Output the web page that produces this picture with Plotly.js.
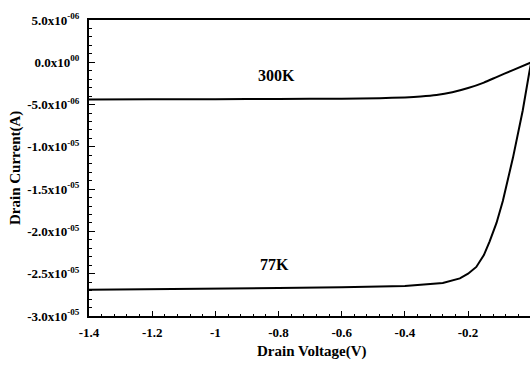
<!DOCTYPE html>
<html><head><meta charset="utf-8">
<script src="https://cdn.plot.ly/plotly-3.0.1.min.js"></script>
<style>html,body{margin:0;padding:0;background:#fff}#c{width:530px;height:367px}</style>
</head><body><div id="c"></div>
<script>
const v300 = [-1.4, -1.2, -1.0, -0.8, -0.6, -0.48, -0.4, -0.35, -0.3, -0.25, -0.2, -0.15, -0.11, -0.06, 0];
const i300 = [-4.4e-6, -4.38e-6, -4.36e-6, -4.34e-6, -4.3e-6, -4.24e-6, -4.15e-6, -4.05e-6, -3.88e-6, -3.55e-6, -3.05e-6, -2.4e-6, -1.75e-6, -0.95e-6, 0];
const v77 = [-1.4, -1.2, -1.0, -0.8, -0.6, -0.48, -0.4, -0.28, -0.226, -0.2, -0.174, -0.15, -0.132, -0.11, -0.09, -0.058, -0.027, -0.006, 0];
const i77 = [-2.69e-5, -2.685e-5, -2.68e-5, -2.67e-5, -2.66e-5, -2.655e-5, -2.645e-5, -2.61e-5, -2.555e-5, -2.5e-5, -2.42e-5, -2.28e-5, -2.12e-5, -1.9e-5, -1.64e-5, -1.13e-5, -5.7e-6, -1.15e-6, 0];
const yTickVals = [5e-6, 0, -5e-6, -1e-5, -1.5e-5, -2e-5, -2.5e-5, -3e-5];
const yTickText = ['5.0x10<sup>-06</sup>', '0.0x10<sup>00</sup>', '-5.0x10<sup>-06</sup>', '-1.0x10<sup>-05</sup>', '-1.5x10<sup>-05</sup>', '-2.0x10<sup>-05</sup>', '-2.5x10<sup>-05</sup>', '-3.0x10<sup>-05</sup>'];
const xTickVals = [-1.4, -1.2, -1.0, -0.8, -0.6, -0.4, -0.2];
const xTickText = ['-1.4', '-1.2', '-1', '-0.8', '-0.6', '-0.4', '-0.2'];
const curveLabels = ['300K', '77K'];
const labelX = [-0.807, -0.813];
const labelY = [-1.55e-6, -2.39e-5];

const F = 'Liberation Serif, Times New Roman, serif';
const traces = [
  {x: v300, y: i300, mode: 'lines', line: {color: '#000', width: 2, shape: 'spline', smoothing: 0.5}, hoverinfo: 'skip'},
  {x: v77, y: i77, mode: 'lines', line: {color: '#000', width: 2}, hoverinfo: 'skip'}
];
const annotations = curveLabels.map((t, i) => ({
  x: labelX[i], y: labelY[i], xref: 'x', yref: 'y', text: '<b>' + t + '</b>',
  showarrow: false, font: {family: F, size: 16, color: '#000'}
}));
annotations.push({x: -74/441, y: 0.5, xref: 'paper', yref: 'paper', text: '<b>Drain Current(A)</b>', textangle: -90,
  showarrow: false, font: {family: F, size: 15, color: '#000'}, xanchor: 'center', yanchor: 'middle'});
annotations.push({x: 0.505, y: -35/296, xref: 'paper', yref: 'paper', text: '<b>Drain Voltage(V)</b>',
  showarrow: false, font: {family: F, size: 15, color: '#000'}, xanchor: 'center', yanchor: 'middle'});

const layout = {
  width: 530, height: 367,
  margin: {l: 89, r: 0, t: 20, b: 51},
  paper_bgcolor: '#fff', plot_bgcolor: '#fff',
  showlegend: false,
  font: {family: F, color: '#000'},
  xaxis: {
    range: [-1.4, -0.004], tickvals: xTickVals, ticktext: xTickText,
    ticks: 'inside', ticklen: 5, tickwidth: 1, tickcolor: '#000',
    showline: true, linecolor: '#000', linewidth: 2, mirror: true,
    showgrid: false, zeroline: false, ticklabelstandoff: 3,
    tickfont: {family: F, size: 13, color: '#000', weight: 'bold'},
    minor: {dtick: 0.04, tick0: -1.4, ticks: 'inside', ticklen: 2.5, tickcolor: '#000', showgrid: false}
  },
  yaxis: {
    range: [-3e-5, 5e-6], tickvals: yTickVals, ticktext: yTickText,
    ticks: 'inside', ticklen: 6, tickwidth: 1, tickcolor: '#000',
    showline: true, linecolor: '#000', linewidth: 2,
    showgrid: false, zeroline: false, ticklabelstandoff: 5,
    tickfont: {family: F, size: 13, color: '#000', weight: 'bold'},
    minor: {dtick: 1e-6, tick0: 0, ticks: 'inside', ticklen: 3, tickcolor: '#000', showgrid: false}
  },
  annotations: annotations
};
Plotly.newPlot('c', traces, layout, {staticPlot: true, displayModeBar: false});
</script></body></html>
